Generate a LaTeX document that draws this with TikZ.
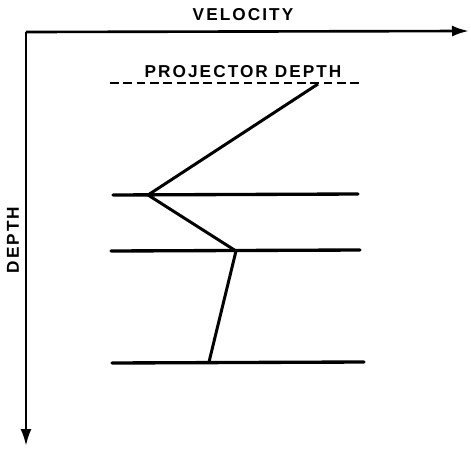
\documentclass[tikz,border=0pt]{standalone}
\usepackage{fontspec}
\setsansfont[LetterSpace=12]{Liberation Sans}
\usetikzlibrary{arrows.meta,positioning,calc}
\tikzset{
  axis/.style={-{Latex[length=3.4mm,width=2.2mm]},draw=black,line width=1.5pt},
  layer/.style={draw=black,line width=1.9pt,line cap=round},
  profile/.style={draw=black,line width=1.7pt,line join=miter},
  projline/.style={draw=black,line width=1.7pt,dash pattern=on 5pt off 2.6pt},
  lbl/.style={font=\sffamily\bfseries\fontsize{9.8}{11}\selectfont,inner sep=0pt}
}

\begin{document}
\begin{tikzpicture}[x=0.02cm,y=-0.02cm]
  \useasboundingbox (0,0) rectangle (471,450);
  % axes
  \coordinate (o) at (26,32);
  \coordinate (vend) at (469,31);
  \coordinate (dend) at (26,446);
  \draw[axis] (o) -- (vend);
  \draw[axis] (o) -- (dend);
  \node[lbl] (vel) at (243,15) {VELOCITY};
  \node[lbl,rotate=90] (dep) at (13,240) {DEPTH};
  % projector depth
  \coordinate (pa) at (110,83);
  \coordinate (pb) at (362,83);
  \draw[projline] (pa) -- (pb);
  \node[lbl] (proj) at (243,72) {PROJECTOR DEPTH};
  % layers
  \coordinate (la) at (113,195);
  \coordinate (lb) at (358,194);
  \coordinate (ma) at (111,251);
  \coordinate (mb) at (360,250);
  \coordinate (na) at (112,363);
  \coordinate (nb) at (364,362);
  \draw[layer] (la) -- (lb);
  \draw[layer] (ma) -- (mb);
  \draw[layer] (na) -- (nb);
  % velocity profile
  \coordinate (p0) at (318,84);
  \coordinate (p1) at (148,195);
  \coordinate (p2) at (236,251);
  \coordinate (p3) at (209,362);
  \draw[profile] (p0) -- (p1) -- (p2) -- (p3);
\end{tikzpicture}
\end{document}
